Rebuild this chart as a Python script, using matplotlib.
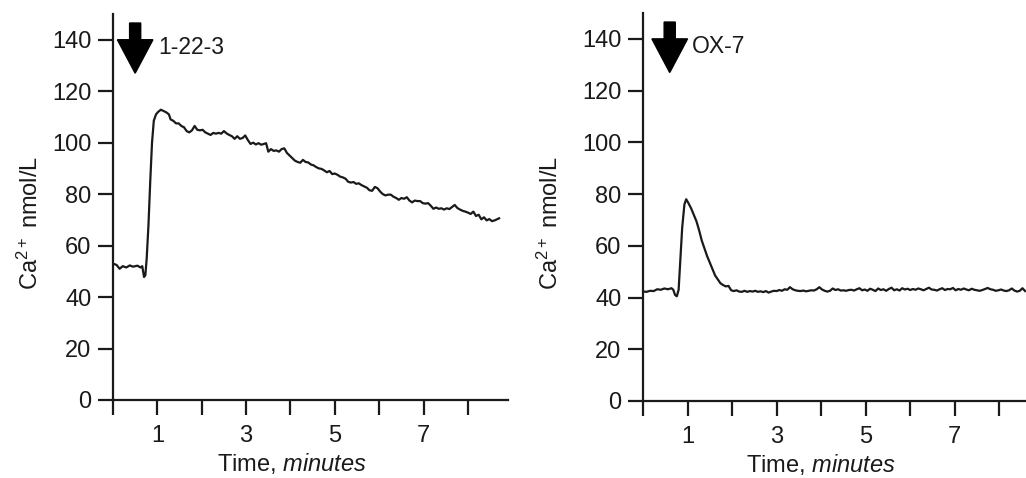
import numpy as np
import matplotlib.pyplot as plt

plt.rcParams['font.family'] = ['Liberation Sans', 'DejaVu Sans']
plt.rcParams['mathtext.fontset'] = 'custom'
plt.rcParams['mathtext.rm'] = 'Liberation Sans'
plt.rcParams['mathtext.it'] = 'Liberation Sans:italic'

# Left panel: 1-22-3
t_left = [0.00, 0.08, 0.15, 0.22, 0.30, 0.38, 0.45, 0.55, 0.62, 0.66, 0.70, 0.73, 0.76, 0.80,
          0.84, 0.88, 0.92, 0.97, 1.02, 1.08, 1.14, 1.20, 1.26, 1.30, 1.36, 1.42, 1.48, 1.54,
          1.60, 1.66, 1.72, 1.78, 1.84, 1.90, 1.96, 2.02, 2.08, 2.14, 2.20, 2.26, 2.32, 2.38,
          2.44, 2.50, 2.56, 2.62, 2.68, 2.74, 2.80, 2.86, 2.92, 2.98, 3.04, 3.10, 3.16, 3.22,
          3.28, 3.34, 3.40, 3.45, 3.50, 3.56, 3.62, 3.68, 3.74, 3.80, 3.86, 3.92, 3.98, 4.04,
          4.10, 4.16, 4.22, 4.28, 4.34, 4.40, 4.46, 4.52, 4.58, 4.64, 4.70, 4.76, 4.82, 4.88,
          4.94, 5.00, 5.06, 5.12, 5.18, 5.24, 5.30, 5.36, 5.42, 5.48, 5.54, 5.60, 5.66, 5.72,
          5.78, 5.84, 5.90, 5.96, 6.02, 6.08, 6.14, 6.20, 6.26, 6.32, 6.38, 6.44, 6.50, 6.56,
          6.62, 6.68, 6.74, 6.80, 6.86, 6.92, 6.98, 7.04, 7.10, 7.16, 7.22, 7.28, 7.34, 7.40,
          7.46, 7.52, 7.58, 7.64, 7.70, 7.76, 7.82, 7.88, 7.94, 8.00, 8.06, 8.12, 8.18, 8.24,
          8.30, 8.36, 8.42, 8.48, 8.54, 8.60, 8.66, 8.70]
ca_left = [53, 52.5, 51, 52, 51.5, 52.3, 51.8, 52.2, 51.5, 52, 47.8, 48.5, 55, 68,
           85, 100, 108.5, 111, 112, 112.8, 112.3, 111.8, 111, 109, 108.5, 107.5, 107.5, 106.5,
           106, 104.5, 104, 104.8, 106.5, 105, 104.8, 105, 104, 103.5, 103, 103.8, 103.5, 103.8,
           103.5, 104.5, 103.6, 103, 102.5, 101.5, 102.5, 101.5, 101.8, 102.8, 101, 99.5, 100, 99.3,
           99.8, 99.2, 99.5, 99.8, 96.5, 97.5, 96.8, 97, 96.5, 97.5, 97.8, 96, 95, 94,
           93, 92.5, 92.2, 93.3, 92.5, 92.3, 91.5, 91.2, 90.5, 90, 89.8, 89.2, 88.5, 89,
           87.8, 88, 87.5, 86.8, 86.5, 86, 84.8, 84.5, 84.7, 84, 84.2, 83.5, 83, 82.5,
           81.5, 81.3, 82.8, 82.3, 81, 80, 79.5, 79.8, 79.8, 79, 78.5, 77.8, 78.5, 78.2,
           78.8, 77.5, 76.8, 77.5, 77.3, 77.3, 76.5, 76.3, 76.5, 75.5, 74.3, 74.8, 74.3, 74.5,
           74, 74.5, 74.2, 75, 75.8, 74.6, 74, 73.5, 73.2, 72.8, 72.3, 73.2, 71.5, 72,
           70.2, 71, 69.8, 70.3, 69.5, 69.8, 70.3, 70.6]

# Right panel: OX-7
t_right = [0.00, 0.08, 0.16, 0.24, 0.32, 0.40, 0.48, 0.56, 0.64, 0.68, 0.72, 0.76, 0.80, 0.84,
           0.88, 0.93, 0.97, 1.02, 1.08, 1.14, 1.20, 1.26, 1.32, 1.38, 1.44, 1.50, 1.56, 1.62,
           1.68, 1.74, 1.80, 1.86, 1.92, 1.98, 2.04, 2.10, 2.16, 2.22, 2.28, 2.34, 2.40, 2.46,
           2.52, 2.58, 2.64, 2.70, 2.76, 2.82, 2.88, 2.94, 3.00, 3.06, 3.12, 3.18, 3.24, 3.30,
           3.36, 3.42, 3.48, 3.54, 3.60, 3.66, 3.72, 3.78, 3.84, 3.90, 3.96, 4.02, 4.08, 4.14,
           4.20, 4.26, 4.32, 4.38, 4.44, 4.50, 4.56, 4.62, 4.68, 4.74, 4.80, 4.86, 4.92, 4.98,
           5.04, 5.10, 5.16, 5.22, 5.28, 5.34, 5.40, 5.46, 5.52, 5.58, 5.64, 5.70, 5.76, 5.82,
           5.88, 5.94, 6.00, 6.06, 6.12, 6.18, 6.24, 6.30, 6.36, 6.42, 6.48, 6.54, 6.60, 6.66,
           6.72, 6.78, 6.84, 6.90, 6.96, 7.02, 7.08, 7.14, 7.20, 7.26, 7.32, 7.38, 7.44, 7.50,
           7.56, 7.62, 7.68, 7.74, 7.80, 7.86, 7.92, 7.98, 8.04, 8.10, 8.16, 8.22, 8.28, 8.34,
           8.40, 8.46, 8.52, 8.58]
ca_right = [42.3, 42.2, 42.6, 42.5, 43.2, 43, 43.5, 43.2, 43.6, 43, 41, 40.5, 43, 55,
            67, 76, 78, 76.5, 74.5, 72, 69.5, 66, 62, 59, 56, 53.5, 51, 48.5,
            47, 45.5, 44.8, 44.3, 44.5, 42.8, 42.5, 42.8, 42.3, 42.2, 42.6, 42.2, 42.5, 42.3,
            42.6, 42.2, 42.4, 42.1, 42.5, 41.9, 42.3, 42.6, 42.5, 42.9, 42.6, 43.2, 43.0, 44,
            43.2, 42.8, 42.6, 42.5, 42.7, 42.4, 42.6, 42.8, 42.7, 43.2, 44, 43.1, 42.6, 42.3,
            42.6, 43.5, 42.9, 43.2, 42.7, 42.8, 42.6, 42.9, 43.0, 42.7, 43.2, 43.6, 42.8, 43.1,
            42.6, 43.4, 43, 42.5, 43.5, 42.9, 43.2, 42.6, 43.3, 43.8, 42.8, 43.2, 42.7, 43.6,
            43.1, 43.4, 42.9, 43.3, 43.0, 43.5, 43.2, 42.8, 43.3, 43.8, 43.1, 43.0, 42.7, 43.2,
            43.6, 42.9, 43.3, 43.2, 43.7, 42.8, 43.3, 43.0, 43.5, 43.1, 42.8, 43.4, 43.0, 42.8,
            42.6, 42.9, 43.3, 43.7, 43.2, 43.0, 42.6, 42.8, 43.1, 42.7, 42.5, 42.8, 43.5, 42.7,
            42.3, 42.6, 43.6, 42.5]

y_ticks = [0, 20, 40, 60, 80, 100, 120, 140]
x_ticks = [0, 1, 2, 3, 4, 5, 6, 7, 8]
x_labels = ['', '1', '', '3', '', '5', '', '7', '']

ink = '#1a1a1a'
fs = 17

fig = plt.figure(figsize=(10.26, 4.78), dpi=100)
ax1 = fig.add_axes([0.1101, 0.1632, 0.385, 0.8075])
ax2 = fig.add_axes([0.6267, 0.1611, 0.3733, 0.8117])


def style_panel(ax, t, ca, xmax, drug, arrow_x, text_x, lab_x, lab_y, xl_x):
    ax.plot(t, ca, color=ink, lw=1.6)
    ax.set_xlim(0, xmax)
    ax.set_ylim(0, 150)
    for s in ['top', 'right']:
        ax.spines[s].set_visible(False)
    for s in ['left', 'bottom']:
        ax.spines[s].set_linewidth(1.6)
        ax.spines[s].set_color(ink)
    ax.set_yticks(y_ticks)
    ax.set_xticks(x_ticks)
    ax.set_xticklabels(x_labels)
    ax.tick_params(axis='both', length=11, width=1.6, color=ink, labelsize=fs, labelcolor=ink)
    ax.tick_params(axis='y', pad=4.5)
    ax.tick_params(axis='x', pad=7)
    ax.set_ylabel('Ca$^{2+}$ nmol/L', fontsize=fs, color=ink)
    ax.yaxis.set_label_coords(lab_x, lab_y)
    ax.set_xlabel('Time, $\\mathit{minutes}$', fontsize=fs, color=ink)
    ax.xaxis.set_label_coords(xl_x, -0.132)
    # injection arrow
    ax.arrow(arrow_x, 146.5, 0, -19.5, width=0.25, head_width=0.8, head_length=13,
             length_includes_head=True, color='black', clip_on=False)
    ax.text(text_x, 137, drug, fontsize=16.5, color=ink, va='center', ha='left')


style_panel(ax1, t_left, ca_left, 8.9, '1-22-3', 0.5, 1.03, -0.177, 0.459, 0.453)
style_panel(ax2, t_right, ca_right, 8.6, 'OX-7', 0.6, 1.1, -0.209, 0.459, 0.465)

fig.savefig('out.png', dpi=100)
